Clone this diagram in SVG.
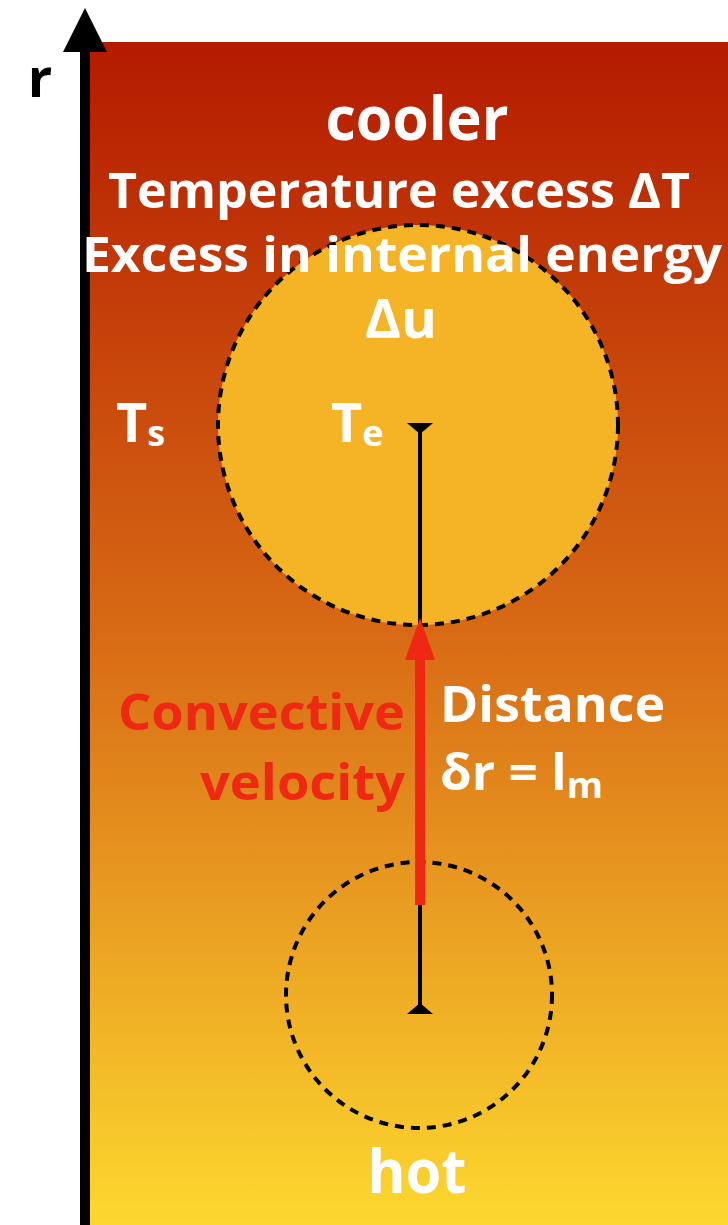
<svg xmlns="http://www.w3.org/2000/svg" width="728" height="1225" viewBox="0 0 728 1225">
<defs>
<linearGradient id="bg" x1="0" y1="0" x2="0" y2="1">
<stop offset="0" stop-color="#B41A00"/>
<stop offset="0.5" stop-color="#D86A15"/>
<stop offset="1" stop-color="#FDD82F"/>
</linearGradient>
</defs>
<style>
text{font-family:"Open Sans","Liberation Sans",sans-serif;font-weight:700;fill:#fff}
.dash{stroke:#000;stroke-width:4;stroke-dasharray:9 7}
.red{fill:#EE2812}
</style>
<rect x="90" y="42" width="638" height="1183" fill="url(#bg)"/>
<g id="parcel-top">
<circle cx="418" cy="425" r="200" class="dash" style="fill:#F4B425"/>
</g>
<g id="parcel-bottom">
<circle cx="419" cy="995" r="133" class="dash" style="fill:none"/>
</g>
<g id="connectors">
<rect x="80" y="50" width="10" height="1175" fill="#000"/>
<polygon points="85,8 63,52 107,52" fill="#000"/>
<line x1="420" y1="428" x2="420" y2="1008" stroke="#000" stroke-width="4"/>
<polygon points="407,423 433,423 420,434" fill="#000"/>
<polygon points="407,1014 433,1014 420,1003" fill="#000"/>
<rect x="415" y="655" width="10" height="250" fill="#EE2812"/>
<polygon points="420,618 405,660 435,660" fill="#EE2812"/>
</g>
<g id="labels">
<text x="40" y="97" font-size="54" text-anchor="middle" style="fill:#000">r</text>
<text x="417" y="140" font-size="60" text-anchor="middle" textLength="183" lengthAdjust="spacingAndGlyphs">cooler</text>
<text x="399" y="208" font-size="49" text-anchor="middle" textLength="582" lengthAdjust="spacingAndGlyphs">Temperature excess ΔT</text>
<text x="402" y="272" font-size="49" text-anchor="middle" textLength="640" lengthAdjust="spacingAndGlyphs">Excess in internal energy</text>
<text x="401" y="338" font-size="54" text-anchor="middle" textLength="72" lengthAdjust="spacingAndGlyphs">Δu</text>
<text x="116" y="442" font-size="54">T<tspan font-size="36" dy="4">s</tspan></text>
<text x="331" y="442" font-size="54">T<tspan font-size="36" dy="4">e</tspan></text>
<text x="405" y="730" font-size="50" text-anchor="end" class="red" textLength="287" lengthAdjust="spacingAndGlyphs">Convective</text>
<text x="405" y="800" font-size="50" text-anchor="end" class="red" textLength="205" lengthAdjust="spacingAndGlyphs">velocity</text>
<text x="440" y="722" font-size="50" textLength="225" lengthAdjust="spacingAndGlyphs">Distance</text>
<text x="440" y="790" font-size="50" textLength="163" lengthAdjust="spacingAndGlyphs">δr = l<tspan font-size="36" dy="8">m</tspan></text>
<text x="417" y="1193" font-size="60" text-anchor="middle" textLength="99" lengthAdjust="spacingAndGlyphs">hot</text>
</g>
</svg>
